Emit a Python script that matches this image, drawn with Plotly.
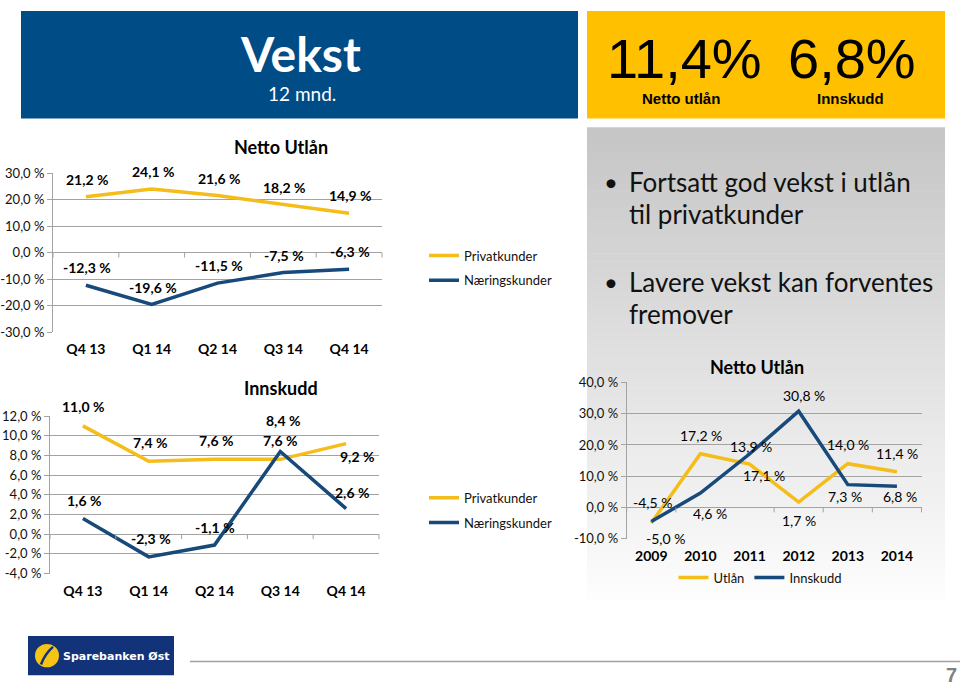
import plotly.graph_objects as go

# ---------------- data ----------------
quarters = ["Q4 13", "Q1 14", "Q2 14", "Q3 14", "Q4 14"]
utlan_privat = [21.2, 24.1, 21.6, 18.2, 14.9]
utlan_naering = [-12.3, -19.6, -11.5, -7.5, -6.3]
innskudd_privat = [11.0, 7.4, 7.6, 7.6, 9.2]
innskudd_naering = [1.6, -2.3, -1.1, 8.4, 2.6]

years = ["2009", "2010", "2011", "2012", "2013", "2014"]
aar_utlan = [-5.0, 17.2, 13.9, 1.7, 14.0, 11.4]
aar_innskudd = [-4.5, 4.6, 17.1, 30.8, 7.3, 6.8]

ticks_utlan = [30, 20, 10, 0, -10, -20, -30]
ticks_innskudd = [12, 10, 8, 6, 4, 2, 0, -2, -4]
ticks_aar = [40, 30, 20, 10, 0, -10]

headline_values = ["11,4%", "6,8%"]
headline_labels = ["Netto utlån", "Innskudd"]
bullets = [["Fortsatt god vekst i utlån", "til privatkunder"],
           ["Lavere vekst kan forventes", "fremover"]]

# ---------------- style ----------------
W, H = 960, 691
YEL = "#F4BD1A"
BLU = "#17497A"
GRID = "#A3A3A3"
FONT = "Lato"


def pct(v):
    return f"{v:.1f}".replace(".", ",") + " %"


def xd(a, b):
    return [a / W, b / W]


def yd(top, bottom):
    return [1 - bottom / H, 1 - top / H]


def px(x):
    return x / W


def py(y):
    return 1 - y / H


fig = go.Figure()

# subplot geometry (pixels)
geo = {
    "1": dict(x=(53, 382), y=(169.3, 331.7), rng=(-30, 30)),
    "2": dict(x=(50, 379), y=(417.7, 579.0), rng=(-4, 12)),
    "3": dict(x=(626.7, 921.5), y=(383.3, 543.3), rng=(-10, 40)),
}

# traces
fig.add_trace(go.Scatter(x=quarters, y=utlan_privat, mode="lines", name="Privatkunder",
                         line=dict(color=YEL, width=3.5), xaxis="x", yaxis="y",
                         legend="legend", legendgroup="a"))
fig.add_trace(go.Scatter(x=quarters, y=utlan_naering, mode="lines", name="Næringskunder",
                         line=dict(color=BLU, width=3.5), xaxis="x", yaxis="y",
                         legend="legend", legendgroup="b"))
fig.add_trace(go.Scatter(x=quarters, y=innskudd_privat, mode="lines", name="Privatkunder",
                         line=dict(color=YEL, width=3.5), xaxis="x2", yaxis="y2",
                         legend="legend2", legendgroup="c"))
fig.add_trace(go.Scatter(x=quarters, y=innskudd_naering, mode="lines", name="Næringskunder",
                         line=dict(color=BLU, width=3.5), xaxis="x2", yaxis="y2",
                         legend="legend2", legendgroup="d"))
fig.add_trace(go.Scatter(x=years, y=aar_utlan, mode="lines", name="Utlån",
                         line=dict(color=YEL, width=3.5), xaxis="x3", yaxis="y3",
                         legend="legend3"))
fig.add_trace(go.Scatter(x=years, y=aar_innskudd, mode="lines", name="Innskudd",
                         line=dict(color=BLU, width=3.5), xaxis="x3", yaxis="y3",
                         legend="legend3"))

ann = []
shapes = []

# data labels (offsets in px: dx, dy up-positive); x given as category index
def add_labels(xref, yref, cats, vals, offs, bold=True, size=14):
    for i, (v, (dx, dy)) in enumerate(zip(vals, offs)):
        ann.append(dict(x=i, y=v, xref=xref, yref=yref, text=pct(v), showarrow=False,
                        xanchor="center", yanchor="middle", xshift=dx, yshift=dy,
                        font=dict(family=FONT, size=size, color="#000",
                                  weight="bold" if bold else "normal")))

add_labels("x", "y", quarters, utlan_privat, [(1.5, 17.5)] * 5)
add_labels("x", "y", quarters, utlan_naering, [(1, 17.5)] * 5)
add_labels("x2", "y2", quarters, innskudd_privat,
           [(1, 19), (1, 19), (1, 19), (0, 19), (11, -13)])
add_labels("x2", "y2", quarters, innskudd_naering,
           [(1, 17.5), (2.5, 18), (0, 17.5), (3, 31), (6, 16)])
add_labels("x3", "y3", years, aar_utlan,
           [(14, -15.5), (1, 18), (1, 18), (0, -18.5), (0, 19), (0, 18)], bold=False)
add_labels("x3", "y3", years, aar_innskudd,
           [(1, 19), (10, -20), (14, -21), (5, 15.5), (-2.5, -12), (3, -10.5)], bold=False)

layout_axes = {}
for k, g in geo.items():
    xa = "xaxis" if k == "1" else f"xaxis{k}"
    ya = "yaxis" if k == "1" else f"yaxis{k}"
    cats = years if k == "3" else quarters
    tv = {"1": ticks_utlan, "2": ticks_innskudd, "3": ticks_aar}[k]
    layout_axes[xa] = dict(domain=xd(*g["x"]), anchor="y" if k == "1" else f"y{k}",
                           type="category", range=[-0.5, len(cats) - 0.5],
                           showgrid=False, zeroline=False, showline=False, ticks="",
                           ticklabelstandoff=7,
                           tickfont=dict(family=FONT, size=14, color="#000", weight="bold"))
    layout_axes[ya] = dict(domain=yd(*g["y"]), anchor="x" if k == "1" else f"x{k}",
                           range=list(g["rng"]), tickvals=tv, ticktext=[pct(t) for t in tv],
                           showgrid=True, gridcolor=GRID, gridwidth=1, zeroline=False,
                           showline=True, linecolor=GRID, linewidth=1,
                           ticks="outside", ticklen=5, tickcolor=GRID,
                           tickfont=dict(family=FONT, size=13, color="#111"))
    # small category tick marks on the zero line
    lo, hi = g["rng"]
    ppu = (g["y"][1] - g["y"][0]) / (hi - lo)
    tl = 5 / ppu
    yr = "y" if k == "1" else f"y{k}"
    step = (g["x"][1] - g["x"][0]) / len(cats)
    for i in range(len(cats) + 1):
        xx = (g["x"][0] + i * step) / W
        shapes.append(dict(type="line", xref="paper", yref=yr, x0=xx, x1=xx, y0=0, y1=-tl,
                           line=dict(color=GRID, width=1)))

# ---------------- decorative panels ----------------
# gradient gray panel on the right
N = 60
top, bot = 122, 606
for i in range(N):
    t = i / (N - 1)
    c = int(198 + (253 - 198) * t)
    y0 = top + (bot - top) * i / N
    y1 = top + (bot - top) * (i + 1) / N + 0.6
    shapes.append(dict(type="rect", xref="paper", yref="paper", x0=px(587), x1=px(945),
                       y0=py(y1), y1=py(y0), fillcolor=f"rgb({c},{c},{c})",
                       line=dict(width=0), layer="below"))

# blue header
shapes.append(dict(type="rect", xref="paper", yref="paper", x0=px(21), x1=px(578),
                   y0=py(113), y1=py(3), fillcolor="#004C86", line=dict(width=0), layer="below"))
# yellow header
shapes.append(dict(type="rect", xref="paper", yref="paper", x0=px(587), x1=px(945),
                   y0=py(113), y1=py(3), fillcolor="#FFC000", line=dict(width=0), layer="below"))
# logo
shapes.append(dict(type="rect", xref="paper", yref="paper", x0=px(28), x1=px(174),
                   y0=py(683), y1=py(643), fillcolor="#12327A", line=dict(width=0)))
shapes.append(dict(type="circle", xref="paper", yref="paper", x0=px(35), x1=px(59),
                   y0=py(675), y1=py(651), fillcolor="#F6C415", line=dict(width=0)))
shapes.append(dict(type="path", xref="paper", yref="paper",
                   path=f"M {px(41)} {py(672)} Q {px(45)} {py(661)} {px(53)} {py(654)}",
                   line=dict(color="#12327A", width=2.5)))
# footer line
shapes.append(dict(type="line", xref="paper", yref="paper", x0=px(190), x1=1,
                   y0=py(669), y1=py(669), line=dict(color="#A0A0A0", width=1.5)))

# ---------------- texts ----------------
def text(x, y, s, size, color="#000", bold=False, family=FONT, xanchor="center"):
    ann.append(dict(x=px(x), y=py(y), xref="paper", yref="paper", text=s, showarrow=False,
                    xanchor=xanchor, yanchor="middle",
                    font=dict(family=family, size=size, color=color,
                              weight="bold" if bold else "normal")))

text(300, 47, "Vekst", 48, "#FFFFFF", bold=True)
text(302, 88, "12 mnd.", 19, "#FFFFFF")
text(684, 52, headline_values[0], 56, "#000", family="Liberation Sans")
text(852, 52, headline_values[1], 56, "#000", family="Liberation Sans")
text(681, 93, headline_labels[0], 15, "#000", bold=True, family="Liberation Sans")
text(850, 93, headline_labels[1], 15, "#000", bold=True, family="Liberation Sans")

text(281, 142, "Netto Utlån", 18, bold=True)
text(281, 389, "Innskudd", 18, bold=True)
text(757, 368, "Netto Utlån", 18, bold=True)

for (l1, l2), y in zip(bullets, [178, 280]):
    text(611, y, "•", 24, "#111")
    text(627, y, l1, 26, "#111", xanchor="left")
    text(627, y + 33, l2, 26, "#111", xanchor="left")

text(116, 664, "Sparebanken Øst", 11, "#FFFFFF", bold=True, family="DejaVu Sans")
text(951, 683, "7", 20, "#808080", bold=True, family="Liberation Sans")

legend_common = dict(bgcolor="rgba(0,0,0,0)", borderwidth=0, itemwidth=30,
                     font=dict(family=FONT, size=13, color="#111"), tracegroupgap=5)

fig.update_layout(
    width=W, height=H, margin=dict(l=0, r=0, t=0, b=0),
    paper_bgcolor="white", plot_bgcolor="rgba(0,0,0,0)",
    showlegend=True,
    legend=dict(x=px(424), y=py(238), xanchor="left", yanchor="top", **legend_common),
    legend2=dict(x=px(424), y=py(486), xanchor="left", yanchor="top", **legend_common),
    legend3=dict(x=px(760), y=py(583), xanchor="center", yanchor="middle",
                 orientation="h", **legend_common),
    annotations=ann, shapes=shapes,
    **layout_axes,
)

post = (
    "document.documentElement.style.margin='0';"
    "document.body.style.margin='0';document.body.style.overflow='hidden';"
    "var d=document.getElementsByClassName('plotly-graph-div')[0];"
    "d.style.position='fixed';d.style.left='0px';d.style.top='0px';"
)
fig.write_html("out.html", post_script=post, config={"displayModeBar": False})
